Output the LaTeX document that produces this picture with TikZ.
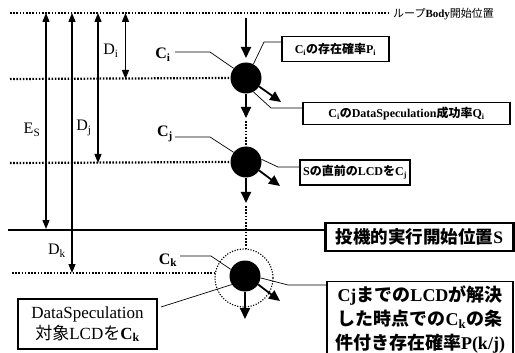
\documentclass[tikz,border=0pt]{standalone}
\usepackage{fontspec}
\setmainfont{Liberation Serif}
\newfontfamily\jp{Noto Sans CJK JP}
\usetikzlibrary{arrows.meta}
\newcommand{\J}[1]{{\jp #1}}
\tikzset{
  dotline/.style={line width=2.2pt, dash pattern=on 1.6pt off 1.6pt},
  flowarrow/.style={line width=1.8pt, -{Triangle[length=11pt,width=10pt]}},
  dimarrow/.style={line width=1.3pt, {Triangle[length=9pt,width=7pt]}-{Triangle[length=9pt,width=7pt]}},
  ball/.style={circle, fill=black, minimum size=31pt, inner sep=0pt},
  ring/.style={circle, draw, line width=1.1pt, dash pattern=on 1.2pt off 1.5pt, minimum size=58pt, inner sep=0pt},
  leader/.style={line width=0.7pt},
  infobox/.style={draw, line width=1.1pt, inner sep=0pt, align=center},
  smallbox/.style={infobox, font=\bfseries\fontsize{12}{14}\selectfont},
  dimlabel/.style={font=\fontsize{16}{18}\selectfont, inner sep=0pt},
  clabel/.style={font=\bfseries\fontsize{16}{18}\selectfont, inner sep=0pt}
}
\begin{document}
\begin{tikzpicture}[x=1pt,y=-1pt]
\useasboundingbox (0,0) rectangle (515,353);
% balls
\node[ball] (ci) at (246,78) {};
\node[ball] (cj) at (246,162) {};
\node[ball] (ck) at (245,276) {};
\node[ring] (rk) at (244,278) {};
% boxes
\node[smallbox, minimum width=107pt, minimum height=25pt] (b1) at (335.5,49)
  {C\textsubscript{i}\J{の存在確率}P\textsubscript{i}};
\node[smallbox, minimum width=207pt, minimum height=22pt] (b2) at (406.5,113.5)
  {C\textsubscript{i}\J{の}DataSpeculation\J{成功率}Q\textsubscript{i}};
\node[smallbox, minimum width=110pt, minimum height=25pt] (b3) at (355,172.5)
  {S\J{の直前の}LCD\J{を}C\textsubscript{j}};
\node[infobox, line width=2.2pt, minimum width=188pt, minimum height=28pt, font=\bfseries\fontsize{17.5}{19}\selectfont] (b4) at (419.5,237)
  {\J{\bfseries 投機的実行開始位置}S};
\node[infobox, minimum width=186pt, minimum height=76pt, font=\bfseries\fontsize{18}{24}\selectfont] (b5) at (420,319.5)
  {Cj\J{\bfseries までの}LCD\J{\bfseries が解決}\\
   \J{\bfseries した時点での}C\textsubscript{k}\J{\bfseries の条}\\
   \J{\bfseries 件付き存在確率}P(k/j)};
\node[infobox, minimum width=139pt, minimum height=50pt, font=\fontsize{17}{21}\selectfont] (b6) at (87.5,324)
  {DataSpeculation\\ \J{対象}LCD\J{を}\textbf{C\textsubscript{k}}};
% top label
\node[anchor=west, inner sep=0pt, font=\fontsize{11}{13}\selectfont] (top) at (393,14)
  {\J{ループ}\textbf{Body}\J{開始位置}};
% horizontal lines
\coordinate (t0) at (10,13);
\coordinate (t1) at (390,13);
\draw[dotline] (t0) -- (t1);
\coordinate (li) at (10,79);
\draw[dotline] (li) -- (ci.west);
\coordinate (lj) at (10,163);
\draw[dotline] (lj) -- (cj.west);
\coordinate (lk) at (12,273);
\draw[dotline] (lk) -- (rk.west |- lk);
\coordinate (ls) at (8,230);
\draw[line width=1.8pt] (ls) -- (b4.west |- ls);
% flow arrows
\coordinate (f0) at (246,18);
\coordinate (f1) at (246,58);
\draw[flowarrow] (f0) -- (f1);
\coordinate (f2) at (246,118);
\draw[flowarrow] (ci.south) -- (f2);
\coordinate (f3) at (246,121);
\draw[dotline] (f3) -- (cj.north);
\coordinate (f4) at (246,203);
\draw[flowarrow] (cj.south) -- (f4);
\coordinate (f5) at (246,206);
\coordinate (f5b) at (246,249);
\draw[dotline] (f5) -- (f5b);
\coordinate (f6) at (245,319);
\draw[flowarrow] (ck.south) -- (f6);
% diagonal arrows
\coordinate (di) at (281,102);
\draw[flowarrow] (ci.-33) -- (di);
\coordinate (dj) at (280,186);
\draw[flowarrow] (cj.-33) -- (dj);
\coordinate (dk) at (280,301);
\draw[flowarrow] (ck.-33) -- (dk);
% dimension arrows
\coordinate (es0) at (46,13); \coordinate (es1) at (46,229);
\draw[dimarrow] (es0) -- (es1);
\coordinate (dk0) at (72,13); \coordinate (dk1) at (72,273);
\draw[dimarrow] (dk0) -- (dk1);
\coordinate (dj0) at (98,13); \coordinate (dj1) at (98,163);
\draw[dimarrow] (dj0) -- (dj1);
\coordinate (di0) at (125.5,13); \coordinate (di1) at (125.5,79);
\draw[dimarrow] (di0) -- (di1);
\node[dimlabel] (les) at (32,130) {E\textsubscript{S}};
\node[dimlabel] (ldk) at (57,251) {D\textsubscript{k}};
\node[dimlabel] (ldj) at (84,128) {D\textsubscript{j}};
\node[dimlabel] (ldi) at (111,51) {D\textsubscript{i}};
% C labels
\node[clabel] (lci) at (163,55) {C\textsubscript{i}};
\node[clabel] (lcj) at (165,134) {C\textsubscript{j}};
\node[clabel] (lck) at (168,260) {C\textsubscript{k}};
% leaders
\draw[leader] (175,52) -- (210,52) -- (ci.142);
\draw[leader] (175,137) -- (210,137) -- (cj.142);
\draw[leader] (180,256) -- (211,256) -- (ck.155);
\draw[leader] (b1.west |- 0,42) -- (264,42) -- (ci.62);
\draw[leader] (b2.west |- 0,108) -- (271,108) -- (ci.-62);
\draw[leader] (b3.west |- 0,167) -- (278,167) -- (cj.10);
\draw[leader] (b5.west |- 0,285) -- (288,285) -- (ck.-7);
\draw[leader] (161,307) -- (ck.213);
\end{tikzpicture}
\end{document}
